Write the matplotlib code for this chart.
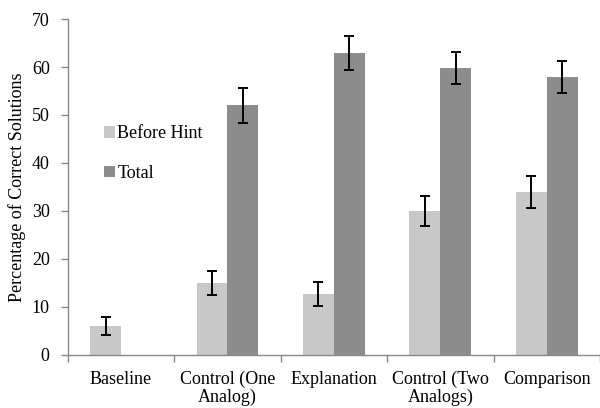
import matplotlib
matplotlib.use("Agg")
import matplotlib.pyplot as plt
import numpy as np

categories = ["Baseline", "Control (One\nAnalog)", "Explanation", "Control (Two\nAnalogs)", "Comparison"]
before_hint = [6, 15, 12.8, 30, 33.9]
before_err = [1.9, 2.45, 2.5, 3.2, 3.35]
total = [np.nan, 52, 62.9, 59.8, 57.9]
total_err = [np.nan, 3.6, 3.6, 3.35, 3.4]
series_names = ["Before Hint", "Total"]
yticks = [0, 10, 20, 30, 40, 50, 60, 70]

plt.rcParams['font.family'] = ['Liberation Serif', 'DejaVu Serif']
FS = 13

fig = plt.figure(figsize=(6, 4.08), dpi=100)
ax = fig.add_axes([0.113, 0.13, 0.887, 0.8234])

x = np.arange(len(categories))
w = 0.29
light = "#c8c8c8"
dark = "#8c8c8c"
ax.bar(x - w/2, before_hint, w, color=light, label=series_names[0], zorder=2)
ax.bar(x + w/2, total, w, color=dark, label=series_names[1], zorder=2)
ek = dict(ecolor="black", elinewidth=1.4, capsize=3.3, capthick=1.4, fmt="none", zorder=3)
ax.errorbar(x - w/2, before_hint, yerr=before_err, **ek)
ax.errorbar(x + w/2, total, yerr=total_err, **ek)

ax.set_xlim(-0.5, len(categories) - 0.5)
ax.set_ylim(0, 70)
ax.set_yticks(yticks)
ax.tick_params(axis='y', labelsize=FS, length=5, color="#888888", width=1, pad=8)
ax.set_xticks(np.arange(len(categories) + 1) - 0.5)
ax.set_xticklabels([])
ax.tick_params(axis='x', length=5, color="#888888", width=1, direction='out')
for i, c in enumerate(categories):
    ax.text(i, -3.3, c, ha='center', va='top', fontsize=FS, linespacing=1.05,
            transform=ax.transData, clip_on=False)

for s in ["top", "right"]:
    ax.spines[s].set_visible(False)
for s in ["left", "bottom"]:
    ax.spines[s].set_color("#888888")
    ax.spines[s].set_linewidth(1)

ax.set_ylabel("Percentage of Correct Solutions", fontsize=FS, labelpad=4)

leg = ax.legend(loc="upper left", bbox_to_anchor=(0.055, 0.705), frameon=False,
                fontsize=FS, handlelength=0.6, handleheight=0.6, handletextpad=0.12,
                labelspacing=1.25, borderaxespad=0)

fig.savefig("out.png", dpi=100)
